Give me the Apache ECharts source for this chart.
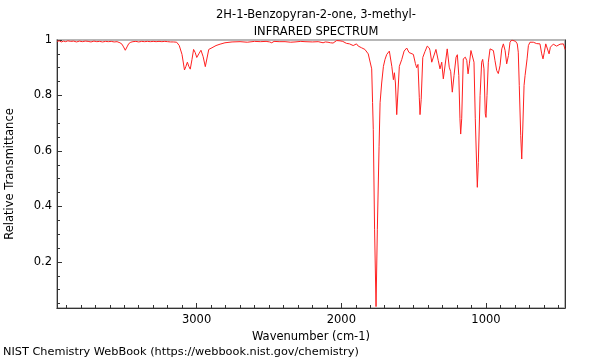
<!DOCTYPE html>
<html><head><meta charset="utf-8">
<script src="https://cdn.jsdelivr.net/npm/echarts@6/dist/echarts.min.js"></script>
<style>html,body{margin:0;padding:0;background:#fff}#c{width:600px;height:360px}</style>
</head><body><div id="c"></div>
<script>
const wavenumbers = [3965,3950,3935,3920,3905,3890,3870,3850,3830,3810,3790,3770,3750,3730,3710,3690,3670,3650,3630,3610,3590,3570,3550,3530,3516,3505,3493,3481,3469,3455,3440,3420,3400,3380,3360,3340,3320,3300,3280,3260,3240,3220,3200,3180,3160,3138,3120,3101,3084,3074,3064,3054,3044,3032,3021,3010,2999,2985,2970,2955,2940,2928,2916,2894,2866,2838,2804,2755,2700,2650,2600,2560,2520,2495,2481,2465,2430,2389,2350,2320,2280,2251,2200,2160,2126,2110,2092,2075,2057,2045,2032,2009,1990,1979,1965,1952,1943,1934,1918,1906,1895,1883,1871,1860,1849,1837,1825,1814,1802,1790,1784,1779,1770,1760,1751,1739,1732,1721,1709,1698,1686,1668,1658,1651,1640,1633,1626,1617,1608,1599,1582,1566,1548,1532,1520,1502,1488,1479,1470,1461,1456,1448,1437,1422,1406,1392,1387,1375,1364,1346,1330,1318,1306,1295,1283,1268,1254,1244,1233,1221,1207,1198,1188,1180,1175,1168,1157,1143,1133,1124,1115,1104,1092,1083,1074,1064,1060,1053,1041,1030,1023,1014,1005,1000,993,984,972,961,949,938,926,915,903,891,880,868,857,845,834,822,811,795,784,777,770,760,753,746,737,730,723,716,707,696,684,673,660,650,638,627,615,606,597,587,574,564,555,546,535,523,512,500,488,476,465,458,454];
const transmittance = [0.995,0.997,0.993,0.996,0.994,0.997,0.995,0.996,0.993,0.996,0.994,0.996,0.995,0.993,0.996,0.994,0.995,0.993,0.995,0.994,0.995,0.993,0.994,0.99,0.985,0.975,0.963,0.975,0.987,0.992,0.994,0.995,0.993,0.995,0.994,0.995,0.994,0.995,0.994,0.995,0.994,0.995,0.994,0.993,0.993,0.992,0.980,0.948,0.892,0.905,0.920,0.905,0.895,0.93,0.966,0.955,0.937,0.95,0.963,0.94,0.904,0.935,0.966,0.972,0.98,0.985,0.99,0.993,0.994,0.992,0.995,0.994,0.995,0.993,0.99,0.995,0.994,0.994,0.992,0.993,0.995,0.994,0.993,0.994,0.99,0.993,0.992,0.99,0.989,0.993,0.998,0.997,0.995,0.993,0.988,0.983,0.986,0.988,0.98,0.983,0.986,0.978,0.974,0.972,0.968,0.966,0.962,0.950,0.944,0.896,0.775,0.677,0.316,0.039,0.316,0.617,0.774,0.845,0.905,0.930,0.948,0.960,0.955,0.905,0.857,0.882,0.845,0.731,0.731,0.905,0.93,0.96,0.971,0.955,0.962,0.948,0.915,0.90,0.912,0.792,0.731,0.785,0.937,0.958,0.978,0.971,0.962,0.92,0.914,0.966,0.926,0.896,0.92,0.86,0.86,0.968,0.902,0.886,0.812,0.872,0.938,0.947,0.872,0.716,0.661,0.716,0.932,0.938,0.926,0.878,0.914,0.962,0.962,0.92,0.716,0.535,0.469,0.559,0.80,0.92,0.93,0.896,0.734,0.721,0.80,0.92,0.968,0.974,0.962,0.926,0.89,0.879,0.908,0.968,0.986,0.962,0.914,0.944,0.992,1.0,0.998,0.995,0.986,0.956,0.836,0.655,0.571,0.679,0.836,0.872,0.878,0.932,0.98,0.992,0.987,0.992,0.989,0.987,0.99,0.986,0.95,0.932,0.956,0.986,0.98,0.95,0.974,0.98,0.985,0.984,0.978,0.98,0.985,0.98,0.986,0.975,0.966];
const xMajorTicks = [1000,2000,3000];
const xMinorTicks = [500,600,700,800,900,1000,1100,1200,1300,1400,1500,1600,1700,1800,1900,2000,2100,2200,2300,2400,2500,2600,2700,2800,2900,3000,3100,3200,3300,3400,3500,3600,3700,3800,3900];
const yMajorTicks = [0.2,0.4,0.6,0.8,1];
const yMinorTicks = [0.05,0.1,0.15,0.2,0.25,0.3,0.35,0.4,0.45,0.5,0.55,0.6,0.65,0.7,0.75,0.8,0.85,0.9,0.95,1];
const titleLines = ['2H-1-Benzopyran-2-one, 3-methyl-','INFRARED SPECTRUM'];
const xRange = [454,3965];
const yRange = [0.034,1.0];

const font = 'DejaVu Sans';
const fs = 11.5;
const axisColor = '#333';
const chart = echarts.init(document.getElementById('c'), null, {renderer:'canvas'});
const seriesData = wavenumbers.map((w,i)=>[w, transmittance[i]]);
const baseX = {type:'value', min:xRange[0], max:xRange[1], inverse:true, gridIndex:0, position:'bottom', splitLine:{show:false}};
const baseY = {type:'value', min:yRange[0], max:yRange[1], gridIndex:0, splitLine:{show:false}};
chart.setOption({
  animation:false,
  backgroundColor:'#fff',
  title:[
    {text:titleLines[0], left:311, top:4, textAlign:'center', textStyle:{fontFamily:font,fontSize:fs,fontWeight:'normal',color:'#000'}},
    {text:titleLines[1], left:311, top:21, textAlign:'center', textStyle:{fontFamily:font,fontSize:fs,fontWeight:'normal',color:'#000'}}
  ],
  grid:{left:57, right:35, top:40, bottom:52, show:true, borderColor:'#a0a0a0', borderWidth:1.5, containLabel:false, outerBoundsMode:'none'},
  xAxis:[
    Object.assign({}, baseX, {
      name:'Wavenumber (cm-1)', nameLocation:'middle', nameGap:19,
      nameTextStyle:{fontFamily:font,fontSize:fs,color:'#000'},
      axisLine:{show:true,lineStyle:{color:axisColor,width:1}},
      axisTick:{show:true,inside:true,length:5,customValues:xMajorTicks,lineStyle:{color:axisColor}},
      axisLabel:{show:true,customValues:xMajorTicks,formatter:(v)=>String(v),fontFamily:font,fontSize:fs,color:'#000',margin:6}
    }),
    Object.assign({}, baseX, {
      axisLine:{show:false},
      axisTick:{show:true,inside:true,length:3,customValues:xMinorTicks,lineStyle:{color:axisColor}},
      axisLabel:{show:false}
    })
  ],
  yAxis:[
    Object.assign({}, baseY, {
      position:'left',
      name:'Relative Transmittance', nameLocation:'middle', nameGap:41, nameRotate:90,
      nameTextStyle:{fontFamily:font,fontSize:fs,color:'#000'},
      axisLine:{show:true,lineStyle:{color:axisColor,width:1}},
      axisTick:{show:true,inside:true,length:5,customValues:yMajorTicks,lineStyle:{color:axisColor}},
      axisLabel:{show:true,customValues:yMajorTicks,formatter:(v)=>String(v),fontFamily:font,fontSize:fs,color:'#000',margin:5}
    }),
    Object.assign({}, baseY, {
      position:'left',
      axisLine:{show:false},
      axisTick:{show:true,inside:true,length:3,customValues:yMinorTicks,lineStyle:{color:axisColor}},
      axisLabel:{show:false}
    }),
    Object.assign({}, baseY, {
      position:'right',
      axisLine:{show:true,lineStyle:{color:axisColor,width:1}},
      axisTick:{show:false}, axisLabel:{show:false}
    })
  ],
  graphic:[
    {type:'text', left:3, top:347, style:{text:'NIST Chemistry WebBook (https://webbook.nist.gov/chemistry)', fontFamily:font, fontSize:11.3, fill:'#000'}}
  ],
  series:[{
    type:'line', xAxisIndex:0, yAxisIndex:0, data:seriesData,
    showSymbol:false, symbol:'none', clip:true,
    lineStyle:{color:'#ff2020', width:1}
  }]
});
</script>
</body></html>
